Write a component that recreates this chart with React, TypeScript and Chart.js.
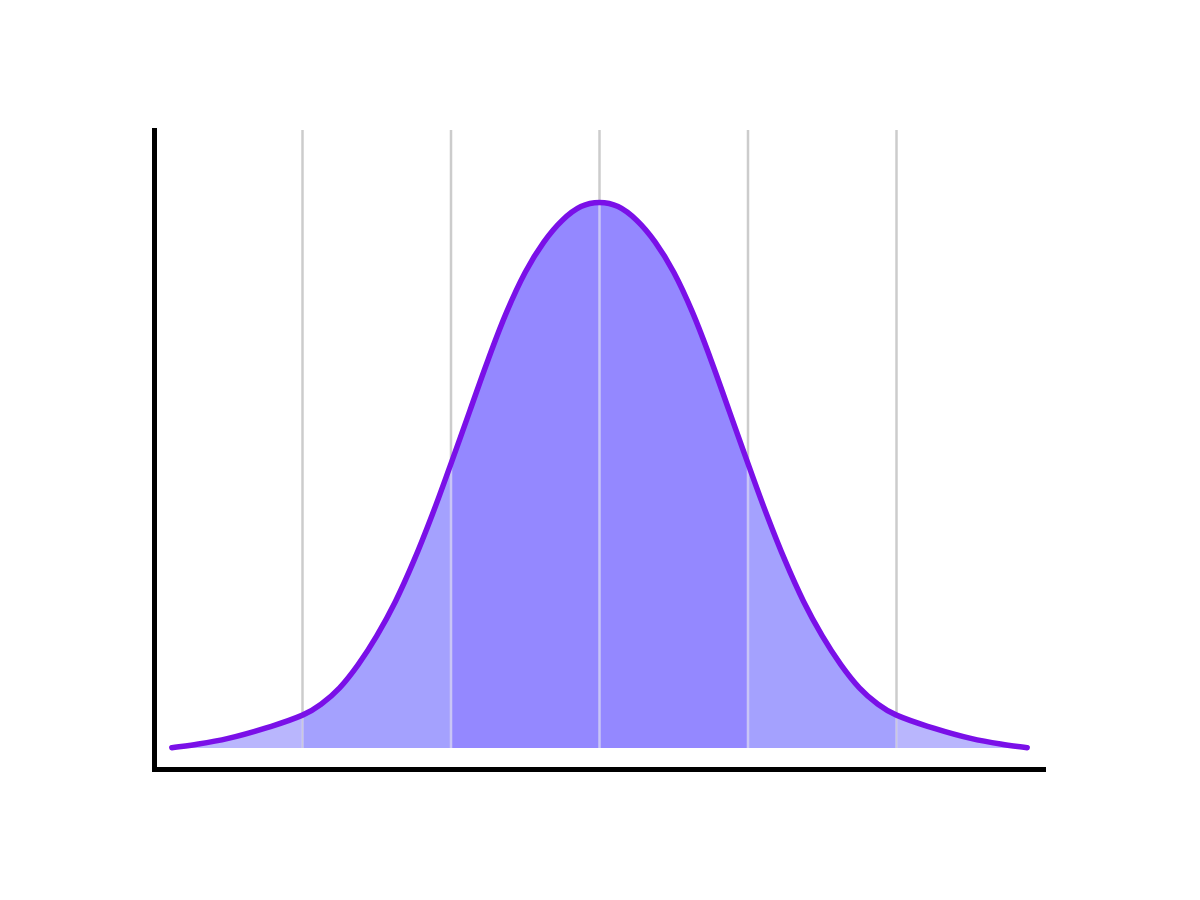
import { useEffect, useRef } from "react"
import { Chart, registerables } from "chart.js"
import type { Plugin } from "chart.js"

Chart.register(...registerables)

// curve (left half mirrored on the right, it is symmetric)
const curveX = [
  -2.88, -2.75, -2.5, -2.25, -2, -1.875, -1.75, -1.625, -1.5, -1.375, -1.25, -1.125, -1, -0.875, -0.75,
  -0.625, -0.5, -0.375, -0.25, -0.125, 0, 0.125, 0.25, 0.375, 0.5, 0.625, 0.75, 0.875, 1, 1.125, 1.25,
  1.375, 1.5, 1.625, 1.75, 1.875, 2, 2.25, 2.5, 2.75, 2.88,
]
const curveY = [
  0.0002, 0.002, 0.007, 0.0145, 0.024, 0.032, 0.044, 0.061, 0.082, 0.107, 0.137, 0.171, 0.208, 0.246, 0.284,
  0.319, 0.348, 0.37, 0.386, 0.396, 0.399, 0.396, 0.386, 0.37, 0.348, 0.319, 0.284, 0.246, 0.208, 0.171, 0.137,
  0.107, 0.082, 0.061, 0.044, 0.032, 0.024, 0.0145, 0.007, 0.002, 0.0002,
]

const gridTicks = [-2, -1, 0, 1, 2]
const bandEdges = [-2.88, -2, -1, 1, 2, 2.88]
const bandColors = ["#b9b6fd", "#a4a1fe", "#9488ff", "#a4a1fe", "#b9b6fd"]

const points = curveX.map((x, i) => ({ x, y: curveY[i] }))

const gridPlugin: Plugin<"line"> = {
  id: "bandGrid",
  beforeDatasetDraw(chart, args) {
    // only once, right before the curve itself
    if (args.index !== 0) return
    const { ctx, chartArea, scales } = chart
    const base = scales.y.getPixelForValue(0)
    const drawLines = (color: string) => {
      ctx.strokeStyle = color
      gridTicks.forEach((t) => {
        const px = scales.x.getPixelForValue(t)
        ctx.beginPath()
        ctx.moveTo(px, chartArea.top)
        ctx.lineTo(px, base)
        ctx.stroke()
      })
    }
    ctx.save()
    ctx.lineWidth = 2.5
    // light line on top of the filled bands
    ctx.globalCompositeOperation = "source-atop"
    drawLines("#c9c5f6")
    // grey line behind, visible only on the white part
    ctx.globalCompositeOperation = "destination-over"
    drawLines("#cccccc")
    ctx.restore()
  },
}

export default function App() {
  const chartRef = useRef<HTMLCanvasElement>(null)
  const chartInstance = useRef<Chart | null>(null)

  useEffect(() => {
    if (!chartRef.current) return
    if (chartInstance.current) {
      chartInstance.current.destroy()
    }
    const ctx = chartRef.current.getContext("2d")
    if (!ctx) return

    const bands = bandColors.map((color, i) => ({
      data: points.filter((p) => p.x >= bandEdges[i] - 1e-6 && p.x <= bandEdges[i + 1] + 1e-6),
      backgroundColor: color,
      borderWidth: 0,
      fill: "origin" as const,
      tension: 0.4,
      pointRadius: 0,
      order: 1,
    }))

    chartInstance.current = new Chart(ctx, {
      type: "line",
      data: {
        datasets: [
          {
            data: points,
            borderColor: "#7a10e8",
            borderWidth: 5.5,
            borderCapStyle: "round",
            borderJoinStyle: "round",
            fill: false,
            tension: 0.4,
            pointRadius: 0,
            order: 0,
          },
          ...bands,
        ],
      },
      options: {
        animation: false,
        responsive: true,
        maintainAspectRatio: false,
        layout: {
          padding: { left: 154, right: 155, top: 130, bottom: 131 },
        },
        plugins: {
          legend: { display: false },
          tooltip: { enabled: false },
        },
        scales: {
          x: {
            type: "linear",
            min: -3,
            max: 3,
            grid: { display: false, drawTicks: false },
            ticks: { display: false },
            border: { display: true, color: "#000000", width: 5 },
          },
          y: {
            type: "linear",
            min: -0.0154,
            max: 0.452,
            grid: { display: false, drawTicks: false },
            ticks: { display: false },
            border: { display: true, color: "#000000", width: 5 },
          },
        },
      },
      plugins: [gridPlugin],
    })

    return () => {
      if (chartInstance.current) {
        chartInstance.current.destroy()
        chartInstance.current = null
      }
    }
  }, [])

  return (
    <div style={{ position: "absolute", left: 0, top: 0, width: 1200, height: 900, background: "#ffffff" }}>
      <canvas ref={chartRef} />
    </div>
  )
}
